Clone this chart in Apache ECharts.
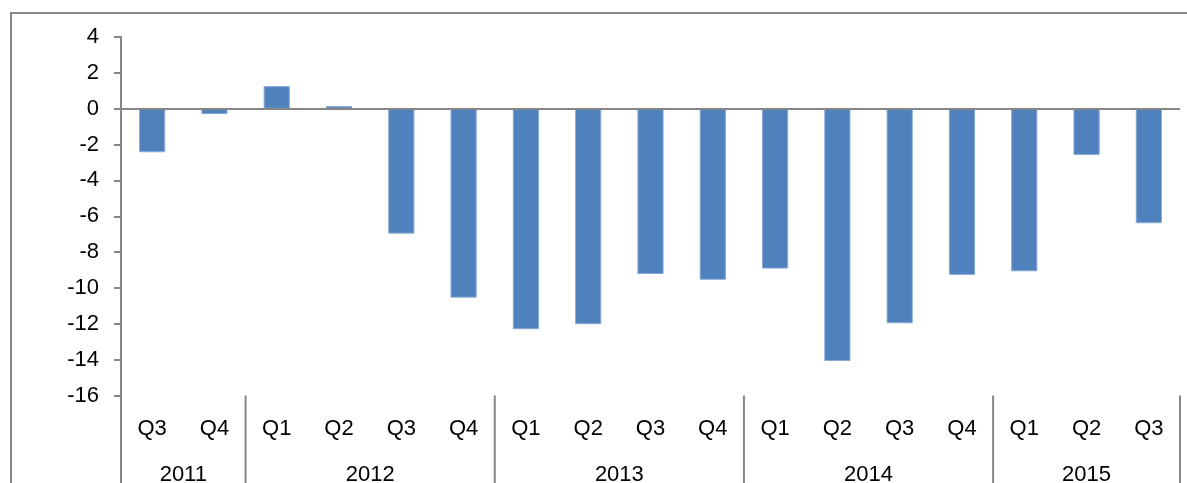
<!DOCTYPE html>
<html>
<head>
<meta charset="utf-8">
<script src="https://cdn.jsdelivr.net/npm/echarts@6/dist/echarts.min.js"></script>
<style>
html,body{margin:0;padding:0;background:#fff;}
#c{width:1187px;height:483px;}
</style>
</head>
<body>
<div id="c"></div>
<script>
var quarterLabels = ['Q3','Q4','Q1','Q2','Q3','Q4','Q1','Q2','Q3','Q4','Q1','Q2','Q3','Q4','Q1','Q2','Q3'];
var yearLabels = ['2011','2012','2013','2014','2015'];
var yearQuarterCounts = [2,4,4,4,3];
var values = [-2.43,-0.3,1.26,0.15,-6.97,-10.54,-12.3,-12.02,-9.22,-9.54,-8.92,-14.07,-11.97,-9.27,-9.07,-2.58,-6.39];
var yTicks = {min:-16, max:4, interval:2};

var GRAY = '#868686';
var FONT = 'Liberation Sans, Arial, sans-serif';
var chart = echarts.init(document.getElementById('c'), null, {renderer:'canvas'});
chart.setOption({
  animation:false,
  backgroundColor:'#fff',
  grid:{left:121, right:7, top:37, bottom:87.5, containLabel:false},
  xAxis:{
    type:'category', data:quarterLabels,
    axisLine:{show:false}, axisTick:{show:false},
    axisLabel:{color:'#000', fontSize:22, fontFamily:FONT, margin:22, interval:0},
    splitLine:{show:false}
  },
  yAxis:{
    type:'value', min:yTicks.min, max:yTicks.max, interval:yTicks.interval,
    axisLine:{show:true, lineStyle:{color:GRAY, width:2}},
    axisTick:{show:true, length:7, lineStyle:{color:GRAY, width:2}},
    axisLabel:{color:'#000', fontSize:22, fontFamily:FONT, margin:22},
    splitLine:{show:false}
  },
  series:[{
    type:'bar', data:values, barWidth:'42%',
    itemStyle:{color:'#4F81BD', borderColor:'#86A9D6', borderWidth:1},
    markLine:{
      silent:true, symbol:['none','none'], label:{show:false},
      lineStyle:{color:GRAY, width:2, type:'solid'},
      data:[{yAxis:0}]
    }
  }]
});

function addGraphics(){
  var c0 = chart.convertToPixel({xAxisIndex:0}, 0);
  var c1 = chart.convertToPixel({xAxisIndex:0}, 1);
  var band = c1 - c0;
  var yBottom = chart.convertToPixel({yAxisIndex:0}, yTicks.min);
  var els = [];
  els.push({type:'rect', shape:{x:11, y:13, width:1400, height:700},
    style:{fill:'none', stroke:GRAY, lineWidth:2}, silent:true, z:0});
  var idx = 0;
  var bounds = [c0 - band/2];
  for (var i=0;i<yearQuarterCounts.length;i++){
    idx += yearQuarterCounts[i];
    bounds.push(chart.convertToPixel({xAxisIndex:0}, idx-1) + band/2);
  }
  for (var j=0;j<bounds.length;j++){
    els.push({type:'line', shape:{x1:bounds[j], y1:yBottom, x2:bounds[j], y2:600},
      style:{stroke:GRAY, lineWidth:2}, silent:true});
  }
  for (var k=0;k<yearLabels.length;k++){
    els.push({type:'text', x:(bounds[k]+bounds[k+1])/2, y:yBottom+79,
      style:{text:yearLabels[k], fill:'#000', fontSize:22, fontFamily:FONT, align:'center', verticalAlign:'middle'},
      silent:true});
  }
  chart.setOption({graphic:els});
}
addGraphics();
</script>
</body>
</html>
